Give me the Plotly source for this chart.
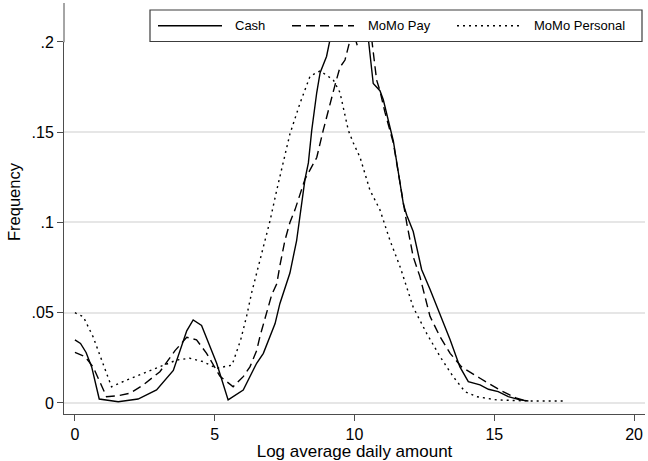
import plotly.graph_objects as go

# ---------------- data ----------------
cash_x = [0, 0.2, 0.4, 0.6, 0.87, 1.55, 2.26, 2.92, 3.52, 4.0, 4.23, 4.53, 5.07, 5.48, 6.02,
          6.5, 6.74, 7.16, 7.33, 7.69, 7.93, 8.23, 8.35, 8.47, 8.65, 8.77, 9.0, 9.12, 9.4,
          9.8, 10.2, 10.5, 10.67, 10.79, 10.91, 11.03, 11.39, 11.75, 11.87, 12.1, 12.4,
          12.7, 13.42, 13.77, 14.07, 14.49, 14.79, 15.14, 15.5, 15.92, 16.22]
cash_y = [0.035, 0.033, 0.028, 0.020, 0.0022, 0.0007, 0.0022, 0.0072, 0.018, 0.040, 0.046,
          0.043, 0.022, 0.0017, 0.0072, 0.022, 0.0275, 0.044, 0.055, 0.072, 0.090, 0.124,
          0.133, 0.151, 0.172, 0.183, 0.192, 0.201, 0.212, 0.218, 0.215, 0.201, 0.177,
          0.175, 0.173, 0.168, 0.145, 0.110, 0.104, 0.095, 0.074, 0.063, 0.035, 0.020,
          0.0118, 0.010, 0.0076, 0.0063, 0.0035, 0.0017, 0.0011]

pay_x = [0, 0.36, 0.65, 1.13, 1.55, 1.97, 2.44, 3.04, 3.58, 4.0, 4.35, 4.71, 5.19, 5.66,
         6.02, 6.26, 6.5, 6.62, 7.04, 7.22, 7.33, 7.51, 7.69, 7.87, 8.23, 8.65, 8.88, 9.12,
         9.3, 9.48, 9.66, 9.84, 9.95, 10.1, 10.3, 10.62, 10.79, 10.91, 11.09, 11.39, 11.75,
         11.87, 12.1, 12.34, 12.7, 13.06, 13.42, 13.83, 14.49, 15.2, 15.8, 16.16]
pay_y = [0.028, 0.0257, 0.020, 0.0035, 0.004, 0.0054, 0.010, 0.0173, 0.029, 0.0364, 0.035,
         0.0275, 0.0148, 0.009, 0.0146, 0.020, 0.029, 0.037, 0.060, 0.066, 0.076, 0.090,
         0.100, 0.107, 0.124, 0.136, 0.151, 0.166, 0.176, 0.186, 0.190, 0.201, 0.206,
         0.198, 0.208, 0.201, 0.179, 0.173, 0.161, 0.144, 0.110, 0.0995, 0.081, 0.070,
         0.048, 0.0367, 0.0275, 0.020, 0.0137, 0.0072, 0.0026, 0.0011]

pers_x = [0, 0.3, 0.65, 1.01, 1.31, 1.85, 2.44, 3.04, 3.64, 4.11, 4.59, 5.07, 5.3, 5.62,
          5.93, 6.14, 6.32, 6.68, 6.98, 7.22, 7.69, 8.05, 8.41, 8.77, 9.24, 9.48, 9.78,
          9.96, 10.2, 10.55, 10.91, 11.27, 11.63, 12.1, 12.58, 13.06, 13.53, 13.95, 14.37,
          15.09, 16.28, 17.53]
pers_y = [0.050, 0.0478, 0.0367, 0.022, 0.009, 0.0127, 0.0164, 0.020, 0.0238, 0.0248,
          0.0229, 0.0192, 0.020, 0.021, 0.035, 0.048, 0.061, 0.083, 0.101, 0.118, 0.149,
          0.166, 0.181, 0.184, 0.179, 0.172, 0.151, 0.144, 0.136, 0.118, 0.107, 0.090,
          0.0755, 0.053, 0.0386, 0.0257, 0.0146, 0.0063, 0.0035, 0.0017, 0.0011, 0.0011]

series_names = ["Cash", "MoMo Pay", "MoMo Personal"]
x_ticks = [0, 5, 10, 15, 20]
y_ticks = [0, 0.05, 0.1, 0.15, 0.2]
y_tick_labels = ["0", ".05", ".1", ".15", ".2"]

# ---------------- styling ----------------
W, H = 648, 461
ML, MR, MT, MB = 64, 3, 3, 47
FONT = "Liberation Sans, Arial, Helvetica, sans-serif"
AXC = "#4d4d4d"
dashes = ["solid", "9px,5px", "2px,4px"]
LW = 1.4

PW, PH = W - ML - MR, H - MT - MB
def px(xp):
    return (xp - ML) / PW
def py(yp):
    return (H - MB - yp) / PH

# legend box (pixels): the plotted curves stop at its lower edge, as in the reference
LEG_L, LEG_R, LEG_T, LEG_B = 150, 642, 10, 41.5
Y_LO = -0.0061
PX_PER_UNIT = PH / (0.2216 - Y_LO)
dom_top = py(LEG_B)
y_hi = Y_LO + (H - MB - LEG_B) / PX_PER_UNIT

fig = go.Figure()
for xs, ys, name, d in zip([cash_x, pay_x, pers_x], [cash_y, pay_y, pers_y], series_names, dashes):
    fig.add_trace(go.Scatter(x=xs, y=ys, mode="lines", name=name, showlegend=False,
                             hoverinfo="skip",
                             line=dict(color="black", width=LW, dash=d)))

shapes = [
    # continuation of the y axis line above the clipped plot region
    dict(type="line", xref="paper", yref="paper", x0=0, x1=0, y0=dom_top - 0.002, y1=1,
         line=dict(color=AXC, width=1), layer="above"),
    dict(type="rect", xref="paper", yref="paper", x0=px(LEG_L), x1=px(LEG_R),
         y0=py(LEG_B), y1=py(LEG_T), fillcolor="white",
         line=dict(color="#3c3c3c", width=1.2), layer="above"),
]
annotations = []
legend_items = [(158, 222, 233), (292, 354, 366), (457, 521, 532)]
yc = (LEG_T + LEG_B) / 2
for (s0, s1, tx), name, d in zip(legend_items, series_names, dashes):
    shapes.append(dict(type="line", xref="paper", yref="paper", x0=px(s0), x1=px(s1),
                       y0=py(yc), y1=py(yc), layer="above",
                       line=dict(color="black", width=LW, dash=d)))
    annotations.append(dict(xref="paper", yref="paper", x=px(tx), y=py(yc), text=name,
                            showarrow=False, xanchor="left", yanchor="middle",
                            font=dict(family=FONT, size=13, color="black")))
# y axis title, centred on the full axis line as in the reference
annotations.append(dict(xref="paper", yref="paper", x=px(14), y=py(202), text="Frequency",
                        textangle=-90, showarrow=False, xanchor="center", yanchor="middle",
                        font=dict(family=FONT, size=16.5, color="black")))

fig.update_layout(
    width=W, height=H,
    margin=dict(l=ML, r=MR, t=MT, b=MB, pad=0),
    paper_bgcolor="white", plot_bgcolor="white",
    font=dict(family=FONT, color="black"),
    shapes=shapes, annotations=annotations,
    showlegend=False,
    xaxis=dict(range=[-0.39, 20.39], tickvals=x_ticks, ticks="outside", ticklen=6,
               tickcolor=AXC, showline=True, linecolor=AXC, linewidth=1,
               showgrid=False, zeroline=False, tickfont=dict(size=16),
               title=dict(text="Log average daily amount", font=dict(size=17), standoff=4),
               automargin=False),
    yaxis=dict(domain=[0, dom_top], range=[Y_LO, y_hi], tickvals=y_ticks,
               ticktext=y_tick_labels, ticks="outside", ticklen=6, tickcolor=AXC,
               showline=True, linecolor=AXC, linewidth=1, showgrid=True,
               gridcolor="#e6e6e6", gridwidth=1.5, zeroline=False, tickfont=dict(size=16),
               automargin=False),
)

fig.write_html("out.html")
